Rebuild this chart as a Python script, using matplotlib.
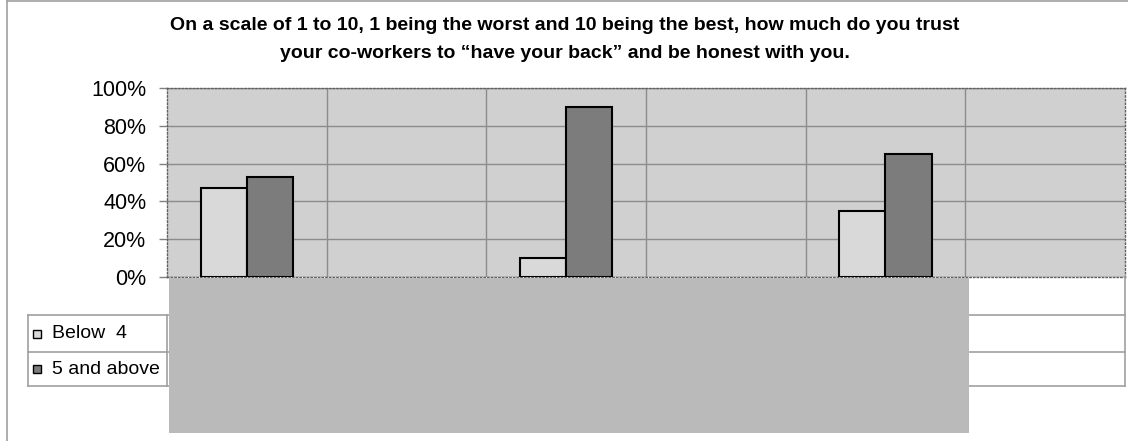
import matplotlib
matplotlib.use("Agg")
import matplotlib.pyplot as plt
import numpy as np
from matplotlib.patches import Rectangle

# --- data ---
categories = ["1", "2", "3", "4", "5", "6"]  # labels hidden under the grey block
below_4 = [47, np.nan, 10, np.nan, 35, np.nan]
above_5 = [53, np.nan, 90, np.nan, 65, np.nan]
series_names = ["Below  4", "5 and above"]
y_ticks = [0, 20, 40, 60, 80, 100]
title = ("On a scale of 1 to 10, 1 being the worst and 10 being the best, how much do you trust\n"
         "your co-workers to \u201chave your back\u201d and be honest with you.")

plt.rcParams["font.family"] = ["Liberation Sans", "DejaVu Sans"]

W, H = 1128, 441
fig = plt.figure(figsize=(W / 100, H / 100), dpi=100)

def px(x0, y0, x1, y1):
    # pixel box -> figure fraction [left, bottom, width, height]
    return [x0 / W, 1 - y1 / H, (x1 - x0) / W, (y1 - y0) / H]

col_light = "#d9d9d9"
col_dark = "#7c7c7c"

# outer chart frame (only top/left visible)
frame = fig.add_axes([0, 0, 1, 1])
frame.set_xlim(0, W)
frame.set_ylim(H, 0)
frame.axis("off")
frame.plot([7, W], [1, 1], color="#a0a0a0", lw=1.2)
frame.plot([7, 7], [1, H], color="#a0a0a0", lw=1.2)

fig.text(565 / W, 1 - 39.5 / H, title, ha="center", va="center",
         fontsize=14, fontweight="bold", linespacing=1.92)

# --- main plot ---
ax = fig.add_axes(px(167, 88, 1125, 277))
x = np.arange(len(categories))
bw = 0.29
ax.set_facecolor("#d0d0d0")
ax.bar(x - bw / 2, below_4, bw, color=col_light, edgecolor="black", lw=1.5, zorder=3)
ax.bar(x + bw / 2, above_5, bw, color=col_dark, edgecolor="black", lw=1.5, zorder=3)
ax.set_xlim(-0.5, len(categories) - 0.5)
ax.set_ylim(0, 100)
ax.set_yticks(y_ticks)
ax.set_yticklabels([f"{v}%" for v in y_ticks], fontsize=15.5)
ax.set_xticks([])
ax.yaxis.grid(True, color="#8c8c8c", lw=1)
for k in range(len(categories) - 1):
    ax.axvline(k + 0.5, color="#8c8c8c", lw=1, zorder=1)
ax.set_axisbelow(True)
ax.tick_params(axis="y", length=6, width=1, color="#808080", pad=9)
for s in ax.spines.values():
    s.set_color("#606060")
    s.set_linestyle(":")
    s.set_linewidth(1)

# --- data table below ---
unit = (1125 - 167) / len(categories)
tax = fig.add_axes(px(28, 277, 1125, 433))
left = -0.5 - (167 - 28) / unit
tax.set_xlim(left, len(categories) - 0.5)
tax.set_ylim(433, 277)
tax.axis("off")
lc = "#a0a0a0"
for yy in [315, 352, 386]:
    tax.plot([left, len(categories) - 0.5], [yy, yy], color=lc, lw=1.2, clip_on=False)
tax.plot([left, left], [315, 386], color=lc, lw=1.2, clip_on=False)
tax.plot([-0.5, -0.5], [315, 386], color=lc, lw=1.2, clip_on=False)
tax.plot([len(categories) - 0.5] * 2, [277, 386], color=lc, lw=1.2, clip_on=False)
tax.add_patch(Rectangle((-0.5 + 2 / unit, 278), len(categories) - 1 + 2 / unit, 155,
                        facecolor="#bababa", edgecolor="none", zorder=5))

# legend keys inside the table
for name, col, yc in zip(series_names, [col_light, col_dark], [334, 369]):
    tax.add_patch(Rectangle((left + 5 / unit, yc - 4), 8 / unit, 8,
                            facecolor=col, edgecolor="black", lw=1, clip_on=False))
    tax.text(left + 24 / unit, yc, name, fontsize=14, va="center", ha="left")

fig.savefig("out.png", dpi=100)
